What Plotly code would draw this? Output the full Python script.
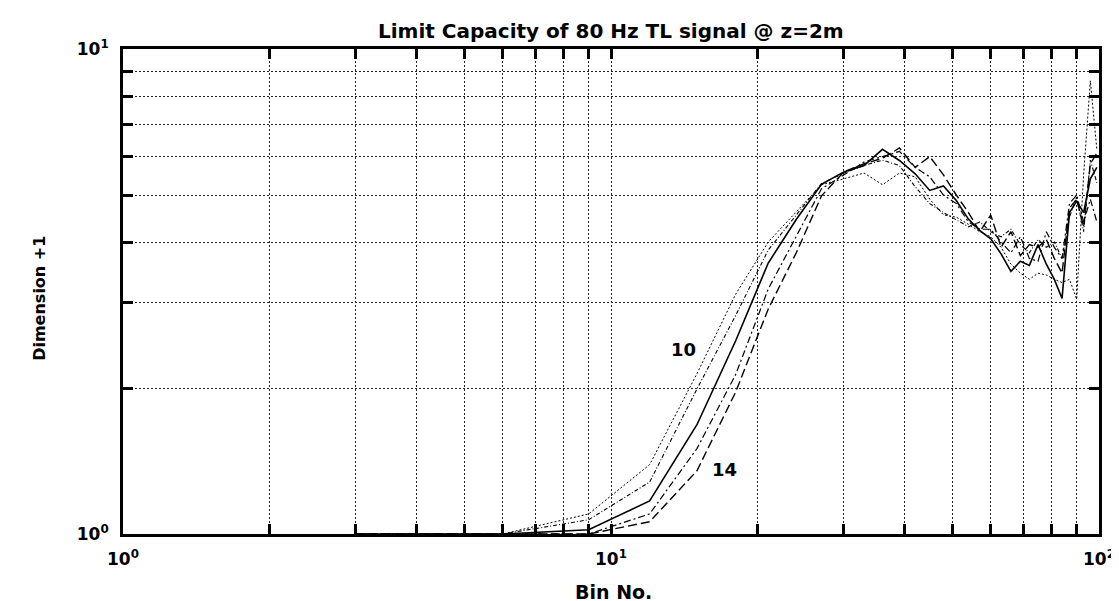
import numpy as np
import plotly.graph_objects as go

bins = [3, 6, 9, 12, 15, 18, 21, 24, 27, 30, 33, 36, 39, 42, 45, 48, 51,
        54, 57, 60, 63, 66, 69, 72, 75, 78, 81, 84, 87, 90, 93, 96, 99]

dim10 = [1.0, 1.0, 1.10, 1.39, 2.14, 3.12, 4.00, 4.62, 5.25, 5.40, 5.55, 5.25,
         5.55, 5.45, 4.90, 4.55, 4.50, 4.35, 4.20, 4.10, 3.90, 3.60, 3.45, 3.35,
         3.45, 3.42, 3.35, 3.30, 3.35, 3.05, 5.50, 8.60, 6.20]
dim11 = [1.0, 1.0, 1.07, 1.28, 1.99, 2.82, 3.85, 4.55, 5.28, 5.55, 5.75, 5.90,
         5.75, 5.20, 4.80, 4.60, 4.45, 4.30, 4.40, 4.20, 4.10, 4.25, 3.95, 3.80,
         4.05, 3.90, 4.00, 3.70, 4.50, 4.95, 4.20, 5.90, 5.30]
dim12 = [1.0, 1.0, 1.02, 1.17, 1.68, 2.50, 3.62, 4.46, 5.26, 5.58, 5.75, 6.21,
         5.89, 5.53, 5.11, 5.22, 4.87, 4.46, 4.22, 4.06, 3.78, 3.48, 3.65, 3.58,
         3.95, 3.60, 3.35, 3.06, 4.60, 4.85, 4.60, 5.40, 5.70]
dim13 = [1.0, 1.0, 1.0, 1.10, 1.50, 2.13, 3.20, 4.12, 5.15, 5.50, 5.85, 6.00,
         6.15, 5.70, 5.45, 5.00, 4.80, 4.40, 4.25, 4.25, 4.00, 3.80, 4.10, 3.70,
         3.65, 4.20, 3.90, 3.70, 4.80, 5.00, 4.40, 4.90, 4.40]
dim14 = [1.0, 1.0, 1.0, 1.06, 1.35, 1.96, 2.91, 3.81, 4.98, 5.58, 5.80, 5.95,
         6.25, 5.70, 6.00, 5.50, 5.00, 4.60, 4.20, 4.55, 3.90, 4.20, 3.75, 3.95,
         3.90, 4.05, 3.70, 3.45, 4.70, 4.90, 4.30, 5.80, 6.10]

series = [
    ("10", dim10, "2px,2px", 1.0),
    ("11", dim11, "4px,2px,1px,2px", 1.1),
    ("12", dim12, "solid", 1.6),
    ("13", dim13, "7px,3px,2px,3px", 1.2),
    ("14", dim14, "9px,4px", 1.4),
]

x_major = [1, 10, 100]
x_major_text = ["10<sup>0</sup>", "10<sup>1</sup>", "10<sup>2</sup>"]
x_minor = [2, 3, 4, 5, 6, 7, 8, 9, 20, 30, 40, 50, 60, 70, 80, 90]
y_major = [1, 10]
y_major_text = ["10<sup>0</sup>", "10<sup>1</sup>"]
y_minor = [2, 3, 4, 5, 6, 7, 8, 9]

title_text = "Limit Capacity of 80 Hz TL signal @ z=2m"
x_title = "Bin No."
y_title = "Dimension +1"
curve_labels = [("10", 14.1, 2.40), ("14", 17.1, 1.36)]

FONT = "DejaVu Sans"
GRID_DASH = "2px,2px"

fig = go.Figure()
for name, vals, dash, w in series:
    fig.add_trace(go.Scatter(x=bins, y=vals, mode="lines", name=name,
                             line=dict(color="black", width=w, dash=dash)))

def axis_style(major, major_text, minor):
    return dict(
        type="log", tickmode="array", tickvals=major, ticktext=major_text,
        showline=True, linewidth=2.8, linecolor="black", mirror="allticks",
        ticks="inside", ticklen=10, tickwidth=2.5, tickcolor="black",
        showgrid=True, gridcolor="#222222", gridwidth=1, griddash=GRID_DASH,
        tickfont=dict(family=FONT, size=17, color="black", weight="bold"),
        ticklabelstandoff=8,
        minor=dict(tickmode="array", tickvals=minor, ticks="inside",
                   ticklen=10, tickwidth=2.5, tickcolor="black",
                   showgrid=True, gridcolor="#222222", gridwidth=1,
                   griddash=GRID_DASH),
    )

fig.update_xaxes(range=[0, 2], **axis_style(x_major, x_major_text, x_minor))
fig.update_yaxes(range=[0, 1], **axis_style(y_major, y_major_text, y_minor))

annotations = [
    dict(text=title_text, xref="paper", yref="paper", x=0.5, y=1.037,
         xanchor="center", yanchor="middle", showarrow=False,
         font=dict(family=FONT, size=20, color="black", weight="bold")),
    dict(text=x_title, xref="paper", yref="paper", x=0.503, y=-0.12,
         xanchor="center", yanchor="middle", showarrow=False,
         font=dict(family=FONT, size=19, color="black", weight="bold")),
    dict(text=y_title, xref="paper", yref="paper", x=-0.085, y=0.485,
         xanchor="center", yanchor="middle", showarrow=False, textangle=-90,
         font=dict(family=FONT, size=16, color="black", weight="bold")),
]
for txt, xv, yv in curve_labels:
    annotations.append(dict(text=txt, x=np.log10(xv), y=np.log10(yv),
                            xref="x", yref="y", showarrow=False,
                            xanchor="center", yanchor="middle",
                            font=dict(family=FONT, size=18, color="black",
                                      weight="bold")))

fig.update_layout(
    width=1119, height=601,
    margin=dict(l=115, r=19, t=41, b=75),
    paper_bgcolor="white", plot_bgcolor="white",
    showlegend=False,
    annotations=annotations,
)

fig.write_html("out.html")
